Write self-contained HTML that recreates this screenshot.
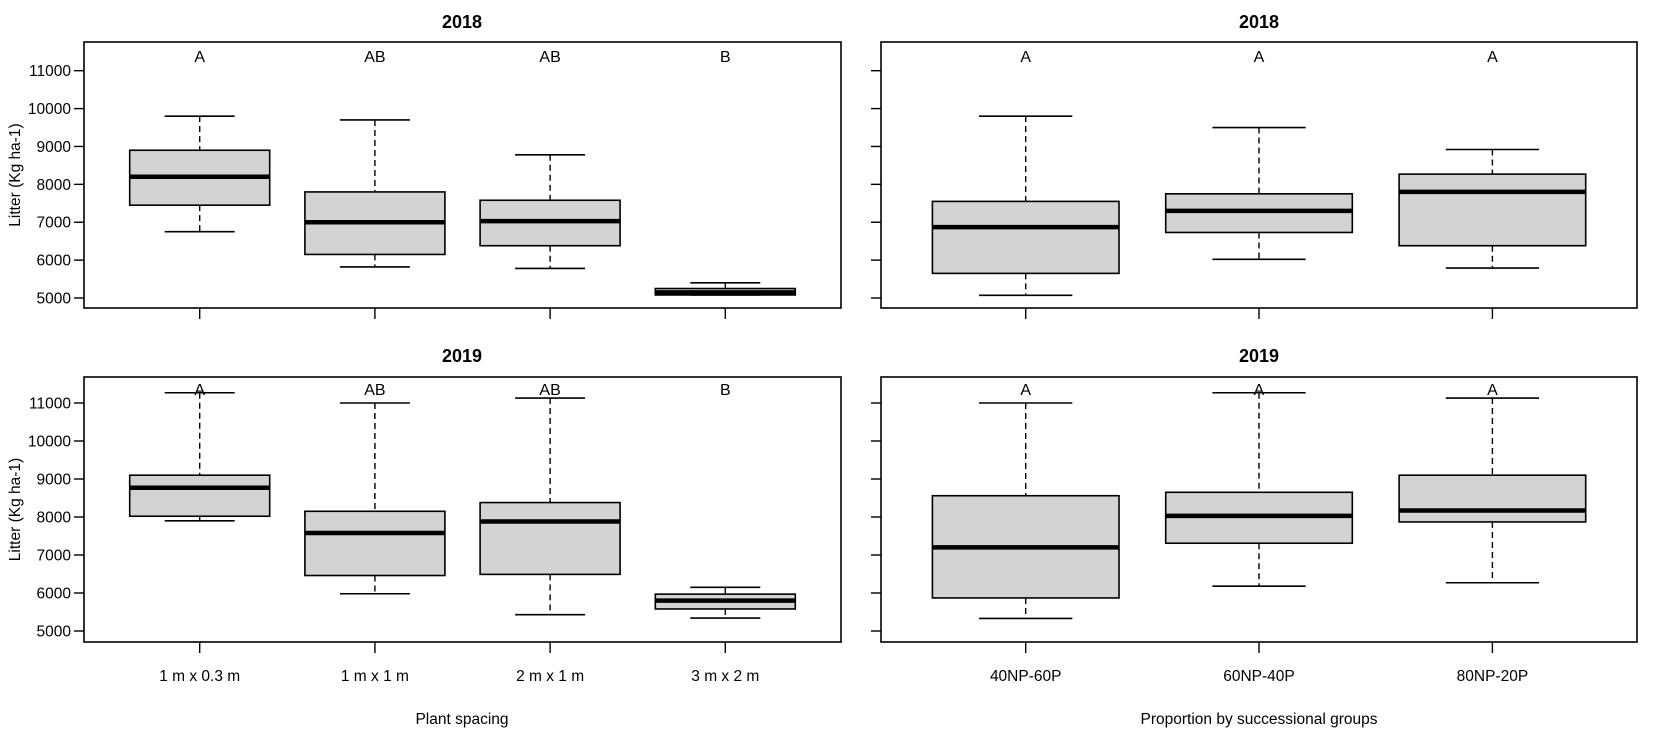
<!DOCTYPE html>
<html><head><meta charset="utf-8"><style>
html,body{margin:0;padding:0;background:#fff;}
svg{display:block;font-family:"Liberation Sans",Arial,sans-serif;}
</style></head><body>
<svg id="s" width="1654" height="736" viewBox="0 0 1654 736" xmlns="http://www.w3.org/2000/svg"></svg>
<script>
const s=document.getElementById('s');let h='';
const L=[199.7,374.9,550.1,725.3], R=[1025.7,1259,1492.4];
const panels=[
 {x0:84,x1:841,y0:42,y1:308,y11:70.7,y5:298,title:'2018',tx:462,ty:28,xs:L,hw:70,letters:['A','AB','AB','B'],ly:62,ylab:true,
  d:[[9800,8900,8200,7450,6750],[9700,7800,7000,6150,5820],[8780,7580,7030,6380,5780],[5400,5250,5150,5080,5080]]},
 {x0:881,x1:1637,y0:42,y1:308,y11:70.7,y5:298,title:'2018',tx:1259,ty:28,xs:R,hw:93.3,letters:['A','A','A'],ly:62,ylab:false,
  d:[[9800,7550,6870,5650,5070],[9500,7750,7300,6730,6020],[8920,8270,7800,6380,5790]]},
 {x0:84,x1:841,y0:377,y1:642,y11:403,y5:631,title:'2019',tx:462,ty:362,xs:L,hw:70,letters:['A','AB','AB','B'],ly:395,ylab:true,
  labels:['1 m x 0.3 m','1 m x 1 m','2 m x 1 m','3 m x 2 m'],
  d:[[11270,9100,8770,8020,7900],[11000,8150,7580,6460,5980],[11130,8380,7880,6490,5430],[6150,5970,5800,5580,5340]]},
 {x0:881,x1:1637,y0:377,y1:642,y11:403,y5:631,title:'2019',tx:1259,ty:362,xs:R,hw:93.3,letters:['A','A','A'],ly:395,ylab:false,
  labels:['40NP-60P','60NP-40P','80NP-20P'],
  d:[[11000,8560,7200,5870,5330],[11270,8650,8030,7310,6180],[11130,9100,8170,7870,6270]]}
];
for(const p of panels){
 const Y=v=>p.y5-(v-5000)*(p.y5-p.y11)/6000;
 h+=`<text x="${p.tx}" y="${p.ty}" font-size="18" font-weight="bold" text-anchor="middle">${p.title}</text>`;
 for(let v=5000;v<=11000;v+=1000){const y=Y(v);
  h+=`<line x1="${p.x0-10}" y1="${y}" x2="${p.x0}" y2="${y}" stroke="#000" stroke-width="1.4"/>`;
  if(p.ylab)h+=`<text x="${p.x0-13}" y="${y+5.5}" font-size="15.5" text-anchor="end">${v}</text>`;}
 if(p.ylab)h+=`<text transform="translate(20,${(p.y0+p.y1)/2}) rotate(-90)" font-size="15.5" text-anchor="middle">Litter (Kg ha-1)</text>`;
 p.xs.forEach((x,i)=>{
  h+=`<line x1="${x}" y1="${p.y1}" x2="${x}" y2="${p.y1+11}" stroke="#000" stroke-width="1.4"/>`;
  if(p.labels)h+=`<text x="${x}" y="681" font-size="15.5" text-anchor="middle">${p.labels[i]}</text>`;
  const [hi,q3,md,q1,lo]=p.d[i].map(Y);const c=p.hw/2;
  h+=`<line x1="${x}" y1="${hi}" x2="${x}" y2="${q3}" stroke="#000" stroke-width="1.4" stroke-dasharray="6,4"/>`;
  h+=`<line x1="${x}" y1="${q1}" x2="${x}" y2="${lo}" stroke="#000" stroke-width="1.4" stroke-dasharray="6,4"/>`;
  h+=`<line x1="${x-c}" y1="${hi}" x2="${x+c}" y2="${hi}" stroke="#000" stroke-width="1.6"/>`;
  h+=`<line x1="${x-c}" y1="${lo}" x2="${x+c}" y2="${lo}" stroke="#000" stroke-width="1.6"/>`;
  h+=`<rect x="${x-p.hw}" y="${q3}" width="${2*p.hw}" height="${q1-q3}" fill="#d3d3d3" stroke="#000" stroke-width="1.6"/>`;
  h+=`<line x1="${x-p.hw}" y1="${md}" x2="${x+p.hw}" y2="${md}" stroke="#000" stroke-width="4.5"/>`;
  h+=`<text x="${x}" y="${p.ly}" font-size="16" text-anchor="middle">${p.letters[i]}</text>`;
 });
 h+=`<rect x="${p.x0}" y="${p.y0}" width="${p.x1-p.x0}" height="${p.y1-p.y0}" fill="none" stroke="#000" stroke-width="1.6"/>`;
}
h+=`<text x="462" y="724" font-size="15.5" text-anchor="middle">Plant spacing</text>`;
h+=`<text x="1259" y="724" font-size="15.5" text-anchor="middle">Proportion by successional groups</text>`;
s.innerHTML=h;
</script>
</body></html>
